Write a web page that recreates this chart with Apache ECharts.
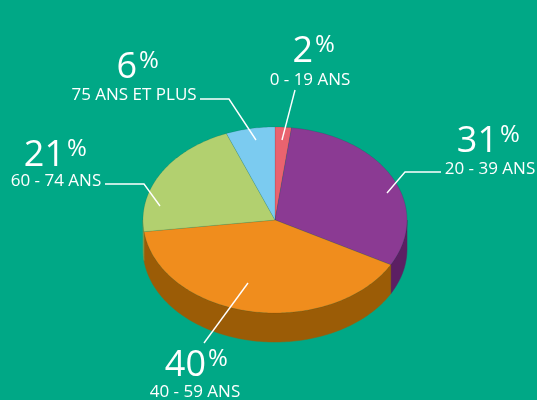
<!DOCTYPE html>
<html>
<head>
<meta charset="utf-8">
<script src="https://cdn.jsdelivr.net/npm/echarts@6/dist/echarts.min.js"></script>
<style>
  html, body { margin: 0; padding: 0; background: #00a886; }
  #chart { width: 537px; height: 400px; }
</style>
</head>
<body>
<div id="chart"></div>
<script>
// tranches d'age (ordre horaire depuis le haut)
const categories = ['0 - 19 ANS', '20 - 39 ANS', '40 - 59 ANS', '60 - 74 ANS', '75 ANS ET PLUS'];
const values = [2, 31, 40, 21, 6];

const topColors = ['#e9636f', '#8b3a93', '#f08d1d', '#b2d06f', '#7bcbf0'];
const sideColors = ['#a8424b', '#5c1f63', '#9b5c06', '#7d9648', '#4f93b3'];

// pie geometry (ellipse = tilted disc)
const pie = { cx: 275, cy: 220, rx: 132, ry: 93, depth: 29 };

// label placement: number (right edge / middle), sub label (center), leader line
const labelLayout = [
  { num: [313, 52], sub: [310, 80], line: [[295, 90], [282, 140]] },
  { num: [498, 142], sub: [490, 169], line: [[441, 172], [405, 172], [387, 193]] },
  { num: [206, 366], sub: [195, 392], line: [[204, 343], [248, 283]] },
  { num: [65, 156], sub: [56, 181], line: [[105, 184], [144, 184], [160, 206]] },
  { num: [137, 68], sub: [134, 95], line: [[200, 99], [229, 99], [256, 140]] }
];

const total = values.reduce((a, b) => a + b, 0);
const starts = [];
let acc = 0;
values.forEach(v => { starts.push(acc / total * 360); acc += v; });

function rim(deg, dy) {
  const t = deg * Math.PI / 180;
  return [pie.cx + pie.rx * Math.sin(t), pie.cy - pie.ry * Math.cos(t) + (dy || 0)];
}

function arc(a, b, dy) {
  const pts = [];
  const n = Math.max(2, Math.ceil(b - a));
  for (let k = 0; k <= n; k++) pts.push(rim(a + (b - a) * k / n, dy));
  return pts;
}

function renderItem(params, api) {
  const i = params.dataIndex;
  const a = starts[i];
  const b = a + api.value(0) / total * 360;
  const children = [];

  // front wall: only where the rim faces the viewer (90..270 deg)
  const wa = Math.max(a, 90), wb = Math.min(b, 270);
  if (wb > wa) {
    const upper = arc(wa, wb, 0);
    const lower = arc(wa, wb, pie.depth).reverse();
    children.push({
      type: 'polygon',
      shape: { points: upper.concat(lower) },
      style: { fill: sideColors[i], stroke: sideColors[i], lineWidth: 0.5 },
      z2: 1
    });
  }

  // top face
  children.push({
    type: 'polygon',
    shape: { points: [[pie.cx, pie.cy]].concat(arc(a, b, 0)) },
    style: { fill: topColors[i], stroke: 'rgba(0,0,0,0.12)', lineWidth: 0.8 },
    z2: 10
  });

  const lay = labelLayout[i];
  children.push({
    type: 'polyline',
    shape: { points: lay.line },
    style: { stroke: '#ffffff', lineWidth: 1.4, fill: null },
    z2: 100
  });
  children.push({
    type: 'text',
    style: {
      text: String(api.value(0)), x: lay.num[0], y: lay.num[1],
      align: 'right', verticalAlign: 'middle',
      font: '36px "Open Sans"', fill: '#ffffff'
    },
    z2: 100
  });
  children.push({
    type: 'text',
    style: {
      text: '%', x: lay.num[0] + 2, y: lay.num[1] - 7,
      align: 'left', verticalAlign: 'middle',
      font: '24px "Open Sans"', fill: '#ffffff'
    },
    z2: 100
  });
  children.push({
    type: 'text',
    style: {
      text: categories[i], x: lay.sub[0], y: lay.sub[1],
      align: 'center', verticalAlign: 'middle',
      font: '17px "Open Sans"', fill: '#ffffff'
    },
    z2: 100
  });

  return { type: 'group', children: children };
}

const chart = echarts.init(document.getElementById('chart'), null, { renderer: 'canvas' });
chart.setOption({
  backgroundColor: '#00a886',
  animation: false,
  series: [{
    type: 'custom',
    coordinateSystem: 'none',
    renderItem: renderItem,
    data: values.map((v, i) => ({ name: categories[i], value: [v] }))
  }]
});
</script>
</body>
</html>
